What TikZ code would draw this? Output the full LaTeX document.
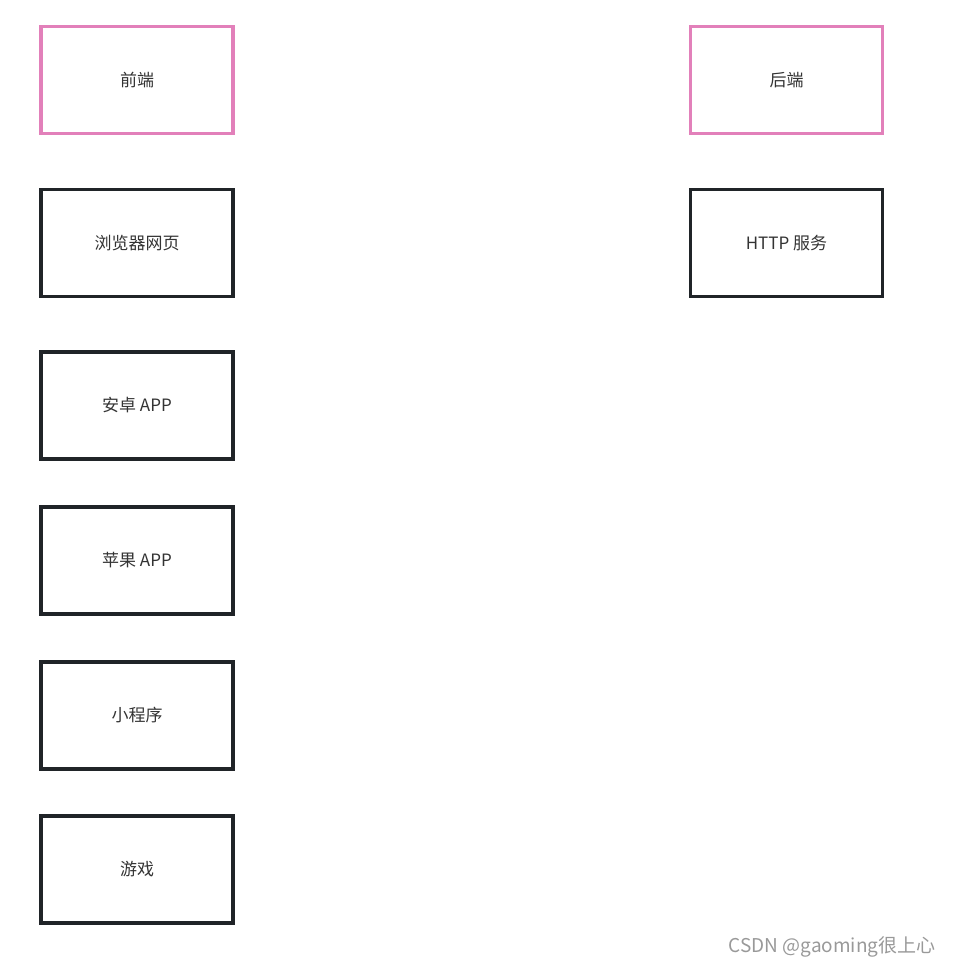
\documentclass[tikz,border=0pt]{standalone}
\usepackage{fontspec}
\setmainfont{Noto Sans CJK SC}
\definecolor{headpink}{RGB}{226,128,186}
\definecolor{boxdark}{RGB}{32,36,40}
\definecolor{txtgray}{RGB}{51,51,51}
\tikzset{
  box/.style={draw=boxdark, line width=3.2pt, minimum width=192pt, minimum height=107pt,
    inner sep=0pt, text=txtgray, font=\fontsize{17}{19}\selectfont},
  headbox/.style={box, draw=headpink}
}
\begin{document}
\begin{tikzpicture}[x=1pt, y=-1pt]
    \useasboundingbox (0, 0) rectangle (954, 968);
    \node [headbox] (front) at (137, 80) {前端};
    \node [headbox] (back) at (786.5, 80) {后端};
    \node [box] (web) at (137, 243) {浏览器网页};
    \node [box] (http) at (786.5, 243) {HTTP 服务};
    \node [box] (android) at (137, 405.5) {安卓 APP};
    \node [box] (ios) at (137, 560.5) {苹果 APP};
    \node [box] (mini) at (137, 715.5) {小程序};
    \node [box] (game) at (137, 869.5) {游戏};
    \node [anchor=east, text=black!40, font=\fontsize{19}{21}\selectfont] (mark) at (939, 947) {CSDN @gaoming很上心};
  \end{tikzpicture}
\end{document}
